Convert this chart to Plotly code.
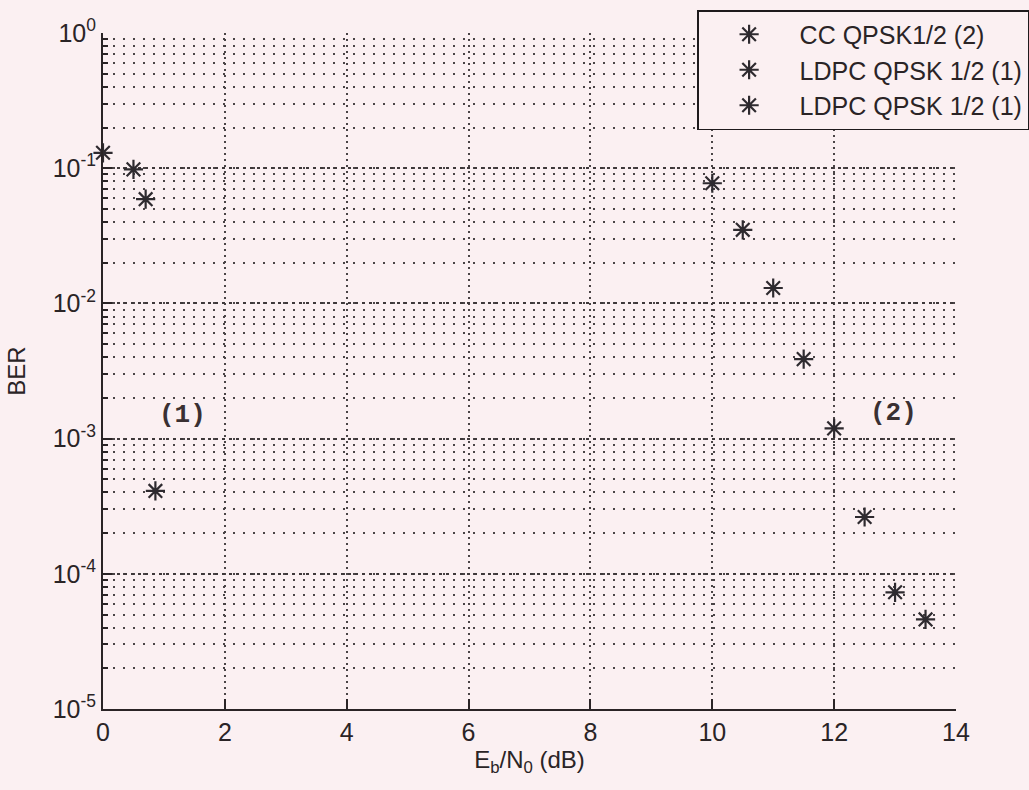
import math
import plotly.graph_objects as go

# ---- data ----
cc_x = [10, 10.5, 11, 11.5, 12, 12.5, 13, 13.5]
cc_ber = [0.0774, 0.0350, 0.0130, 3.87e-3, 1.19e-3, 2.63e-4, 7.3e-5, 4.6e-5]

ldpc_a_x = [0, 0.5, 0.7]
ldpc_a_ber = [0.130, 0.098, 0.059]

ldpc_b_x = [0.86]
ldpc_b_ber = [4.1e-4]

names = ["CC QPSK1/2 (2)", "LDPC QPSK 1/2 (1)", "LDPC QPSK 1/2 (1)"]

x_ticks = [0, 2, 4, 6, 8, 10, 12, 14]
y_ticks = [1e-5, 1e-4, 1e-3, 1e-2, 1e-1, 1]
y_ticktext = ["10<sup>-5</sup>", "10<sup>-4</sup>", "10<sup>-3</sup>",
              "10<sup>-2</sup>", "10<sup>-1</sup>", "10<sup>0</sup>"]

labels = [("(1)", 1.30, 1.5e-3), ("(2)", 12.97, 1.54e-3)]

# ---- styling ----
BG = "#fbf0f2"
INK = "#2a2426"
MARK = "#2e2a2f"
FONT = "Liberation Sans, Arial, sans-serif"

marker = dict(symbol="asterisk-open", size=16, color=MARK,
              line=dict(width=2.2, color=MARK))

fig = go.Figure()
for xs, ys, nm in [(cc_x, cc_ber, names[0]),
                   (ldpc_a_x, ldpc_a_ber, names[1]),
                   (ldpc_b_x, ldpc_b_ber, names[2])]:
    fig.add_trace(go.Scatter(x=xs, y=ys, mode="markers", name=nm,
                             marker=marker, cliponaxis=False))

for txt, lx, ly in labels:
    fig.add_annotation(x=lx, y=math.log10(ly), xref="x", yref="y",
                       text="<b>" + txt + "</b>", showarrow=False,
                       font=dict(family="Liberation Mono, Courier New, monospace",
                                 size=26, color="#3a3032"),
                       xanchor="center", yanchor="middle")

fig.update_layout(
    width=1029, height=790,
    paper_bgcolor=BG, plot_bgcolor=BG,
    margin=dict(l=103, r=73, t=33, b=81, autoexpand=False),
    font=dict(family=FONT, size=24, color=INK),
    showlegend=True,
    legend=dict(x=0.6965, y=1.034, xanchor="left", yanchor="top",
                bgcolor=BG, bordercolor="#1e1a1c", borderwidth=1.5,
                font=dict(family=FONT, size=25, color=INK),
                itemwidth=91, tracegroupgap=0),
)

fig.update_xaxes(
    range=[0, 14], tickvals=x_ticks, ticks="inside", ticklen=10, tickwidth=1.5,
    tickcolor=INK, showline=True, linecolor=INK, linewidth=2, mirror=False,
    showgrid=True, gridcolor="#4a4446", gridwidth=1.5, griddash="2px,4px",
    zeroline=False, tickfont=dict(size=25),
    title=dict(text="E<sub>b</sub>/N<sub>0</sub> (dB)", standoff=6,
               font=dict(size=24)),
)

fig.update_yaxes(
    type="log", range=[-5, 0], tickmode="array", tickvals=y_ticks,
    ticktext=y_ticktext, ticks="inside", ticklen=9, tickwidth=1.5,
    tickcolor=INK, showline=True, linecolor=INK, linewidth=2, mirror=False,
    showgrid=True, gridcolor="#3e383a", gridwidth=1.5, griddash="3px,4px",
    zeroline=False, tickfont=dict(size=25),
    minor=dict(dtick="D1", ticks="inside", ticklen=5, tickcolor=INK,
               showgrid=True, gridcolor="#4a4446", gridwidth=1.5,
               griddash="2px,8px"),
    title=dict(text="BER", standoff=20, font=dict(size=24)),
)

fig.write_html(
    "out.html",
    config={"displayModeBar": False},
    post_script="document.body.style.margin='0';"
                "document.body.style.background='" + BG + "';",
)
